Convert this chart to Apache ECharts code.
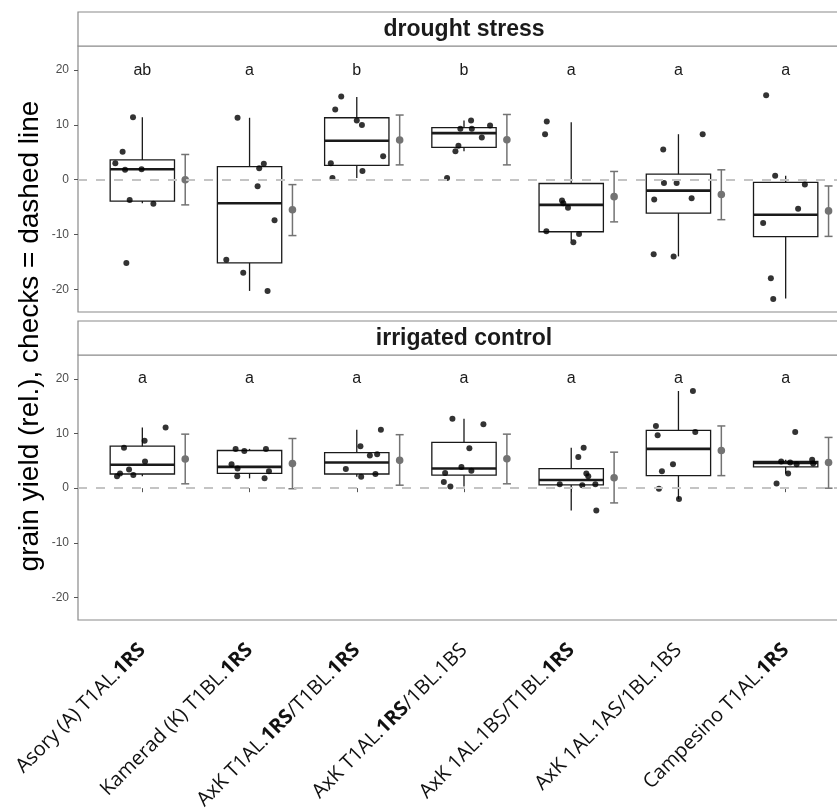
<!DOCTYPE html>
<html>
<head>
<meta charset="utf-8">
<script src="https://cdn.jsdelivr.net/npm/echarts@6/dist/echarts.min.js"></script>
<style>
  html, body { margin: 0; padding: 0; background: #fff; }
  #chart { width: 837px; height: 809px; }
</style>
</head>
<body>
<div id="chart"></div>
<script>
// categories, bold parts marked with **
var categories = [
  'Asory (A) T1AL.**1RS**',
  'Kamerad (K) T1BL.**1RS**',
  'AxK T1AL.**1RS**/T1BL.**1RS**',
  'AxK T1AL.**1RS**/1BL.1BS',
  'AxK 1AL.1BS/T1BL.**1RS**',
  'AxK 1AL.1AS/1BL.1BS',
  'Campesino T1AL.**1RS**'
]
var panels = ['drought stress', 'irrigated control']
var yTicks = [-20, -10, 0, 10, 20]

var droughtLetters = ['ab', 'a', 'b', 'b', 'a', 'a', 'a']
var irrigatedLetters = ['a', 'a', 'a', 'a', 'a', 'a', 'a']

// box stats: [lower whisker, q1, median, q3, upper whisker]
var droughtBoxes = [
  [-4.3, -3.9, 1.9, 3.6, 11.4],
  [-20.3, -15.2, -4.3, 2.4, 11.3],
  [0.3, 2.6, 7.1, 11.3, 15.1],
  [5.2, 5.9, 8.5, 9.5, 10.8],
  [-11.1, -9.5, -4.6, -0.7, 10.5],
  [-14.0, -6.1, -2.0, 1.0, 8.3],
  [-21.7, -10.4, -6.4, -0.5, 0.7]
]
var irrigatedBoxes = [
  [2.2, 2.6, 4.3, 7.7, 11.1],
  [1.8, 2.7, 3.9, 6.9, 7.2],
  [2.1, 2.6, 4.7, 6.5, 10.7],
  [0.3, 2.4, 3.6, 8.4, 12.7],
  [-4.1, 0.6, 1.5, 3.6, 7.4],
  [-2.0, 2.3, 7.2, 10.6, 17.8],
  [2.7, 3.9, 4.6, 4.9, 5.2]
]

// check means: [mean, lower, upper]
var droughtMeans = [
  [0.0, -4.6, 4.6],
  [-5.5, -10.2, -0.9],
  [7.25, 2.7, 11.8],
  [7.3, 2.7, 11.9],
  [-3.1, -7.7, 1.5],
  [-2.7, -7.3, 1.8],
  [-5.7, -10.35, -1.15]
]
var irrigatedMeans = [
  [5.35, 0.8, 9.9],
  [4.5, -0.1, 9.1],
  [5.1, 0.55, 9.8],
  [5.4, 0.8, 9.9],
  [1.9, -2.7, 6.6],
  [6.9, 2.3, 11.4],
  [4.7, 0.0, 9.3]
]

// single observations and their jitter (category units)
var droughtValues = [
  [11.4, 5.1, 3.0, 1.8, 1.9, -3.7, -4.4, -15.2],
  [11.3, 2.1, 2.9, -1.2, -7.4, -14.6, -17.0, -20.3],
  [15.2, 12.8, 10.8, 10.0, 4.3, 3.0, 1.6, 0.3],
  [10.8, 9.3, 9.3, 9.9, 7.7, 6.2, 5.2, 0.3],
  [10.6, 8.3, -3.8, -4.3, -5.1, -9.4, -9.9, -11.4],
  [8.3, 5.5, -0.6, -0.6, -3.6, -3.4, -13.6, -14.0],
  [15.4, 0.7, -0.9, -5.3, -7.9, -18.0, -21.8]
]
var droughtJitter = [
  [-0.087, -0.184, -0.252, -0.161, -0.007, -0.118, 0.103, -0.149],
  [-0.112, 0.09, 0.133, 0.075, 0.233, -0.217, -0.059, 0.168],
  [-0.145, -0.201, 0.0, 0.048, 0.246, -0.242, 0.053, -0.227],
  [0.066, -0.034, 0.073, 0.243, 0.166, -0.052, -0.08, -0.158],
  [-0.228, -0.244, -0.086, -0.074, -0.03, -0.232, 0.073, 0.02],
  [0.226, -0.142, -0.135, -0.017, -0.226, 0.123, -0.231, -0.045],
  [-0.182, -0.098, 0.179, 0.116, -0.21, -0.138, -0.116]
]
var irrigatedValues = [
  [11.1, 8.7, 7.4, 4.9, 3.4, 2.7, 2.4, 2.2],
  [7.2, 6.8, 7.2, 4.4, 3.6, 3.1, 2.2, 1.8],
  [10.7, 7.7, 6.0, 6.2, 3.5, 2.6, 2.1],
  [12.7, 11.7, 7.3, 3.9, 3.2, 2.8, 1.15, 0.3],
  [7.4, 5.7, 2.7, 2.2, 0.7, 0.7, 0.55, -4.1],
  [17.8, 11.4, 9.7, 10.3, 4.4, 3.1, -0.1, -2.0],
  [10.3, 4.9, 4.7, 4.4, 5.2, 4.5, 2.7, 0.85]
]
var irrigatedJitter = [
  [0.217, 0.021, -0.171, 0.025, -0.124, -0.208, -0.084, -0.236],
  [-0.13, -0.049, 0.153, -0.168, -0.112, 0.181, -0.115, 0.14],
  [0.225, 0.034, 0.122, 0.19, -0.102, 0.174, 0.041],
  [-0.108, 0.181, 0.05, -0.024, 0.069, -0.176, -0.188, -0.127],
  [0.116, 0.066, 0.141, 0.159, -0.107, 0.225, 0.103, 0.234],
  [0.135, -0.21, -0.194, 0.157, -0.051, -0.154, -0.182, 0.005],
  [0.089, -0.042, 0.042, 0.102, 0.247, 0.256, 0.023, -0.085]
]

var catIdx = categories.map(function (c, i) { return i + 1 })

function boxRender (params, api) {
  var i = api.value(0)
  var wMin = api.coord([i, api.value(1)])
  var q1 = api.coord([i - 0.3, api.value(2)])
  var medL = api.coord([i - 0.3, api.value(3)])
  var medR = api.coord([i + 0.3, api.value(3)])
  var q3 = api.coord([i + 0.3, api.value(4)])
  var wMax = api.coord([i, api.value(5)])
  var st = { stroke: '#1a1a1a', lineWidth: 1.3, fill: null }
  return {
    type: 'group',
    children: [
      { type: 'line', shape: { x1: wMax[0], y1: wMax[1], x2: wMax[0], y2: q3[1] }, style: st },
      { type: 'line', shape: { x1: wMin[0], y1: q1[1], x2: wMin[0], y2: wMin[1] }, style: st },
      { type: 'rect', shape: { x: q1[0], y: q3[1], width: q3[0] - q1[0], height: q1[1] - q3[1] }, style: st },
      { type: 'line', shape: { x1: medL[0], y1: medL[1], x2: medR[0], y2: medR[1] }, style: { stroke: '#1a1a1a', lineWidth: 2.6 } }
    ]
  }
}

function meanRender (params, api) {
  var x = api.value(0) + 0.4
  var m = api.coord([x, api.value(1)])
  var lo = api.coord([x, api.value(2)])
  var hi = api.coord([x, api.value(3)])
  var st = { stroke: '#737373', lineWidth: 1.5 }
  return {
    type: 'group',
    children: [
      { type: 'line', shape: { x1: m[0], y1: lo[1], x2: m[0], y2: hi[1] }, style: st },
      { type: 'line', shape: { x1: m[0] - 4, y1: lo[1], x2: m[0] + 4, y2: lo[1] }, style: st },
      { type: 'line', shape: { x1: m[0] - 4, y1: hi[1], x2: m[0] + 4, y2: hi[1] }, style: st },
      { type: 'circle', shape: { cx: m[0], cy: m[1], r: 3.8 }, style: { fill: '#737373' } }
    ]
  }
}

function letterRender (letters) {
  return function (params, api) {
    var p = api.coord([api.value(0), api.value(1)])
    return {
      type: 'text',
      style: {
        text: letters[params.dataIndex], x: p[0], y: p[1],
        align: 'center', verticalAlign: 'middle',
        font: '16px "Liberation Sans", Arial, sans-serif', fill: '#1a1a1a'
      }
    }
  }
}

function panelSeries (k, boxes, means, values, jitter, letters) {
  var pts = []
  values.forEach(function (vals, c) {
    vals.forEach(function (v, j) { pts.push([c + 1 + jitter[c][j], v]) })
  })
  return [
    {
      type: 'line', xAxisIndex: k, yAxisIndex: k, data: [], silent: true, z: 1,
      markLine: {
        silent: true, symbol: 'none', label: { show: false },
        lineStyle: { color: '#c4c4c4', width: 2, type: [9, 9] },
        data: [{ yAxis: 0 }]
      }
    },
    {
      type: 'custom', xAxisIndex: k, yAxisIndex: k, z: 2, renderItem: boxRender,
      data: boxes.map(function (b, c) { return [c + 1].concat(b) }),
      encode: { x: 0, y: [1, 2, 3, 4, 5] }
    },
    {
      type: 'custom', xAxisIndex: k, yAxisIndex: k, z: 3, renderItem: meanRender,
      data: means.map(function (m, c) { return [c + 1].concat(m) }),
      encode: { x: 0, y: [1, 2, 3] }
    },
    {
      type: 'scatter', xAxisIndex: k, yAxisIndex: k, z: 4, symbolSize: 6,
      itemStyle: { color: '#000' }, data: pts
    },
    {
      type: 'custom', xAxisIndex: k, yAxisIndex: k, z: 4, renderItem: letterRender(letters),
      data: catIdx.map(function (i) { return [i, 20] }),
      encode: { x: 0, y: 1 }
    }
  ]
}

function labelRich (s) {
  return s.replace(/\*\*(.+?)\*\*/g, '{b|$1}')
}

var grids = [
  { left: 78, top: 46, width: 772, height: 266 },
  { left: 78, top: 355, width: 772, height: 265 }
]

var chart = echarts.init(document.getElementById('chart'))
chart.setOption({
  animation: false,
  backgroundColor: '#fff',
  grid: grids.map(function (g) {
    return Object.assign({
      show: true, borderColor: '#8a8a8a', borderWidth: 1.2, backgroundColor: '#fff',
      outerBoundsMode: 'none', containLabel: false
    }, g)
  }),
  xAxis: [0, 1].map(function (k) {
    return {
      type: 'value', gridIndex: k, min: 0.4, max: 7.6,
      axisLine: { show: false },
      splitLine: { show: false },
      axisTick: { show: k === 1, length: 4, lineStyle: { color: '#555' }, customValues: catIdx },
      axisLabel: {
        show: k === 1, customValues: catIdx, rotate: 45, margin: 27,
        fontFamily: '"Open Sans", sans-serif', fontSize: 20, color: '#111',
        formatter: function (v) { return labelRich(categories[Math.round(v) - 1]) },
        rich: { b: { fontFamily: '"Open Sans", sans-serif', fontSize: 20, fontWeight: 'bold', color: '#111' } }
      }
    }
  }),
  yAxis: [0, 1].map(function (k) {
    return {
      type: 'value', gridIndex: k, min: -24.15, max: 24.4,
      axisLine: { show: false },
      splitLine: { show: false },
      axisTick: { show: true, length: 4, lineStyle: { color: '#555' }, customValues: yTicks },
      axisLabel: {
        customValues: yTicks, margin: 9,
        fontFamily: '"Liberation Sans", Arial, sans-serif', fontSize: 12, color: '#4d4d4d'
      }
    }
  }),
  graphic: [
    { type: 'rect', shape: { x: 78, y: 12, width: 772, height: 34 }, style: { fill: '#fff', stroke: '#8a8a8a', lineWidth: 1.2 } },
    { type: 'rect', shape: { x: 78, y: 321, width: 772, height: 34 }, style: { fill: '#fff', stroke: '#8a8a8a', lineWidth: 1.2 } },
    {
      type: 'text', x: 464, y: 30,
      style: { text: panels[0], align: 'center', verticalAlign: 'middle', font: 'bold 23px "Liberation Sans", Arial, sans-serif', fill: '#1a1a1a' }
    },
    {
      type: 'text', x: 464, y: 339,
      style: { text: panels[1], align: 'center', verticalAlign: 'middle', font: 'bold 23px "Liberation Sans", Arial, sans-serif', fill: '#1a1a1a' }
    },
    {
      type: 'text', x: 30, y: 336, rotation: Math.PI / 2,
      style: { text: 'grain yield (rel.), checks = dashed line', align: 'center', verticalAlign: 'middle', font: '28px "Liberation Sans", Arial, sans-serif', fill: '#000' }
    }
  ],
  series: [].concat(
    panelSeries(0, droughtBoxes, droughtMeans, droughtValues, droughtJitter, droughtLetters),
    panelSeries(1, irrigatedBoxes, irrigatedMeans, irrigatedValues, irrigatedJitter, irrigatedLetters)
  )
})
</script>
</body>
</html>
